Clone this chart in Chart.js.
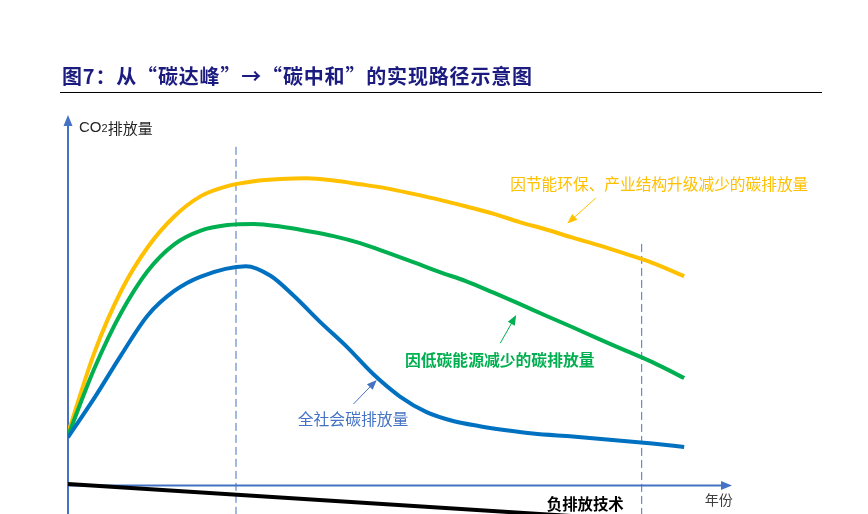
<!DOCTYPE html>
<html>
<head>
<meta charset="utf-8">
<script src="https://cdn.jsdelivr.net/npm/chart.js@4"></script>
<style>
  html, body { margin: 0; padding: 0; background: #fff; }
  #wrap { width: 868px; height: 514px; }
</style>
</head>
<body>
<div id="wrap"><canvas id="chart" width="868" height="514"></canvas></div>
<script>
// x = time (schematic units), y = CO2 emission (schematic units)
const years = [0, 4, 8, 12, 16, 20, 24, 28, 32, 36, 40, 44, 48, 52, 56, 60, 64, 68, 72, 76, 80, 84, 88, 92.8];
const energySavingCurve = [14.1, 36.0, 52.5, 64.3, 72.6, 78.1, 80.8, 82.1, 82.7, 82.9, 82.3, 81.3, 80.2, 78.7, 77.1, 75.3, 73.4, 71.1, 69.1, 66.9, 64.8, 62.5, 60.1, 56.5];
const lowCarbonCurve = [13.4, 31.7, 46.6, 57.9, 65.1, 68.8, 70.3, 70.6, 69.9, 68.7, 67.3, 65.4, 62.9, 60.3, 57.6, 55.1, 52.1, 49.0, 45.8, 42.7, 39.5, 36.4, 33.3, 29.0];

const totalYears = [0, 4, 8, 12, 16, 20, 26.8, 30.5, 34, 38, 42, 46, 50, 54, 58, 62, 66, 70, 76, 82, 88, 92.8];
const totalCurve = [13.0, 23.7, 35.2, 45.9, 52.5, 56.4, 59.2, 56.6, 51.2, 44.1, 37.4, 30.0, 24.0, 19.8, 17.4, 16.0, 14.9, 14.0, 13.2, 12.3, 11.3, 10.4];

const negativeX = [0, 100];
const negativeY = [0.4, -11];

// 碳达峰 / 碳中和 markers
const milestoneX = [25.3, 86.4];
const milestoneTop = [91.4, 65.2];

const xMin = 0, xMax = 100;
const yMin = -7.7, yMax = 100;

const pts = (xs, ys) => xs.map((x, i) => ({ x: x, y: ys[i] }));

const CJK = '"Noto Sans CJK SC", "Liberation Sans", sans-serif';
const LAT = '"Liberation Sans", "Noto Sans CJK SC", sans-serif';

function arrow(ctx, x1, y1, x2, y2, color, len, half) {
  const a = Math.atan2(y2 - y1, x2 - x1);
  ctx.save();
  ctx.strokeStyle = color;
  ctx.fillStyle = color;
  ctx.lineWidth = 1;
  ctx.beginPath();
  ctx.moveTo(x1, y1);
  ctx.lineTo(x2 - Math.cos(a) * len * 0.8, y2 - Math.sin(a) * len * 0.8);
  ctx.stroke();
  ctx.beginPath();
  ctx.moveTo(x2, y2);
  ctx.lineTo(x2 - Math.cos(a) * len - Math.sin(a) * half, y2 - Math.sin(a) * len + Math.cos(a) * half);
  ctx.lineTo(x2 - Math.cos(a) * len + Math.sin(a) * half, y2 - Math.sin(a) * len - Math.cos(a) * half);
  ctx.closePath();
  ctx.fill();
  ctx.restore();
}

const sketchPlugin = {
  id: 'sketch',
  beforeDatasetsDraw(chart) {
    const ctx = chart.ctx;
    const xs = chart.scales.x, ys = chart.scales.y;
    const x0 = xs.getPixelForValue(0);
    const y0 = ys.getPixelForValue(0);
    const xEnd = xs.getPixelForValue(xMax);
    const yTop = ys.getPixelForValue(yMax);
    ctx.save();
    ctx.strokeStyle = '#4472C4';
    ctx.fillStyle = '#4472C4';
    ctx.lineWidth = 2;
    // y axis
    ctx.beginPath();
    ctx.moveTo(x0, chart.height);
    ctx.lineTo(x0, yTop + 9);
    ctx.stroke();
    ctx.beginPath();
    ctx.moveTo(x0, yTop);
    ctx.lineTo(x0 - 4.5, yTop + 11);
    ctx.lineTo(x0 + 4.5, yTop + 11);
    ctx.closePath();
    ctx.fill();
    // x axis
    ctx.beginPath();
    ctx.moveTo(x0, y0);
    ctx.lineTo(xEnd - 9, y0);
    ctx.stroke();
    ctx.beginPath();
    ctx.moveTo(xEnd, y0);
    ctx.lineTo(xEnd - 11, y0 - 4.5);
    ctx.lineTo(xEnd - 11, y0 + 4.5);
    ctx.closePath();
    ctx.fill();
    ctx.restore();
  },
  afterDatasetsDraw(chart) {
    const ctx = chart.ctx;
    const xs = chart.scales.x, ys = chart.scales.y;
    const px = v => xs.getPixelForValue(v);
    const py = v => ys.getPixelForValue(v);

    ctx.save();
    // title
    const title = '图7：从“碳达峰”→“碳中和”的实现路径示意图';
    ctx.font = 'bold 20px ' + CJK;
    ctx.fillStyle = '#1B1B80';
    ctx.textBaseline = 'middle';
    ctx.textAlign = 'left';
    const w = ctx.measureText(title).width;
    const n = Array.from(title).length;
    ctx.letterSpacing = ((470 - w) / (n - 1)).toFixed(2) + 'px';
    ctx.fillText(title, 62, 76);
    ctx.letterSpacing = '0px';
    ctx.strokeStyle = '#000';
    ctx.lineWidth = 1;
    ctx.beginPath();
    ctx.moveTo(60, 92.5);
    ctx.lineTo(822, 92.5);
    ctx.stroke();

    // y axis label CO2排放量
    ctx.fillStyle = '#262626';
    ctx.font = '15px ' + LAT;
    let lx = px(1.66), ly = py(96.5);
    ctx.fillText('CO', lx, ly);
    lx += ctx.measureText('CO').width;
    ctx.font = '11px ' + LAT;
    ctx.fillText('2', lx, ly + 1);
    lx += ctx.measureText('2').width;
    ctx.font = '15px ' + CJK;
    ctx.fillText('排放量', lx, ly);

    // x axis label
    ctx.fillStyle = '#404040';
    ctx.font = '14px ' + CJK;
    ctx.fillText('年份', px(95.9), py(-3.9));

    // negative emission label
    ctx.fillStyle = '#000';
    ctx.font = 'bold 15.4px ' + CJK;
    ctx.fillText('负排放技术', px(72.1), py(-5.0));

    // curve labels
    ctx.fillStyle = '#FFC000';
    ctx.font = '15.7px ' + CJK;
    ctx.fillText('因节能环保、产业结构升级减少的碳排放量', px(66.6), py(81.4));

    ctx.fillStyle = '#00B050';
    ctx.font = 'bold 15.8px ' + CJK;
    ctx.fillText('因低碳能源减少的碳排放量', px(50.75), py(33.9));

    ctx.fillStyle = '#4472C4';
    ctx.font = '15.8px ' + CJK;
    ctx.fillText('全社会碳排放量', px(34.6), py(17.9));
    ctx.restore();

    arrow(ctx, px(43.0), py(22.0), px(46.5), py(28.5), '#4472C4', 10, 4);
    arrow(ctx, px(65.1), py(38.4), px(67.5), py(46.0), '#00B050', 10, 4);
    arrow(ctx, px(79.5), py(77.6), px(75.2), py(70.7), '#FFC000', 10, 4);
  }
};

const curveStyle = {
  fill: false,
  borderWidth: 4,
  pointRadius: 0,
  cubicInterpolationMode: 'monotone',
  borderCapStyle: 'butt'
};

const dashedStyle = {
  borderColor: '#4472C4',
  borderWidth: 1,
  borderDash: [8, 4],
  pointRadius: 0,
  fill: false
};

new Chart(document.getElementById('chart').getContext('2d'), {
  type: 'line',
  data: {
    datasets: [
      Object.assign({ label: '因节能环保、产业结构升级减少的碳排放量', data: pts(years, energySavingCurve), borderColor: '#FFC000', order: 3 }, curveStyle),
      Object.assign({ label: '因低碳能源减少的碳排放量', data: pts(years, lowCarbonCurve), borderColor: '#00B050', order: 2 }, curveStyle),
      Object.assign({ label: '全社会碳排放量', data: pts(totalYears, totalCurve), borderColor: '#0070C0', order: 1 }, curveStyle),
      { label: '负排放技术', data: pts(negativeX, negativeY), borderColor: '#000', borderWidth: 4, pointRadius: 0, fill: false, order: 0 },
      Object.assign({ label: '碳达峰', data: [{ x: milestoneX[0], y: milestoneTop[0] }, { x: milestoneX[0], y: yMin }], order: 4 }, dashedStyle),
      Object.assign({ label: '碳中和', data: [{ x: milestoneX[1], y: milestoneTop[1] }, { x: milestoneX[1], y: yMin }], order: 4 }, dashedStyle)
    ]
  },
  options: {
    responsive: false,
    animation: false,
    devicePixelRatio: 1,
    layout: { padding: { left: 68, right: 136, top: 115, bottom: 0 } },
    scales: {
      x: { type: 'linear', min: xMin, max: xMax, display: false },
      y: { type: 'linear', min: yMin, max: yMax, display: false }
    },
    plugins: {
      legend: { display: false },
      tooltip: { enabled: false },
      title: { display: false }
    }
  },
  plugins: [sketchPlugin]
});
</script>
</body>
</html>
